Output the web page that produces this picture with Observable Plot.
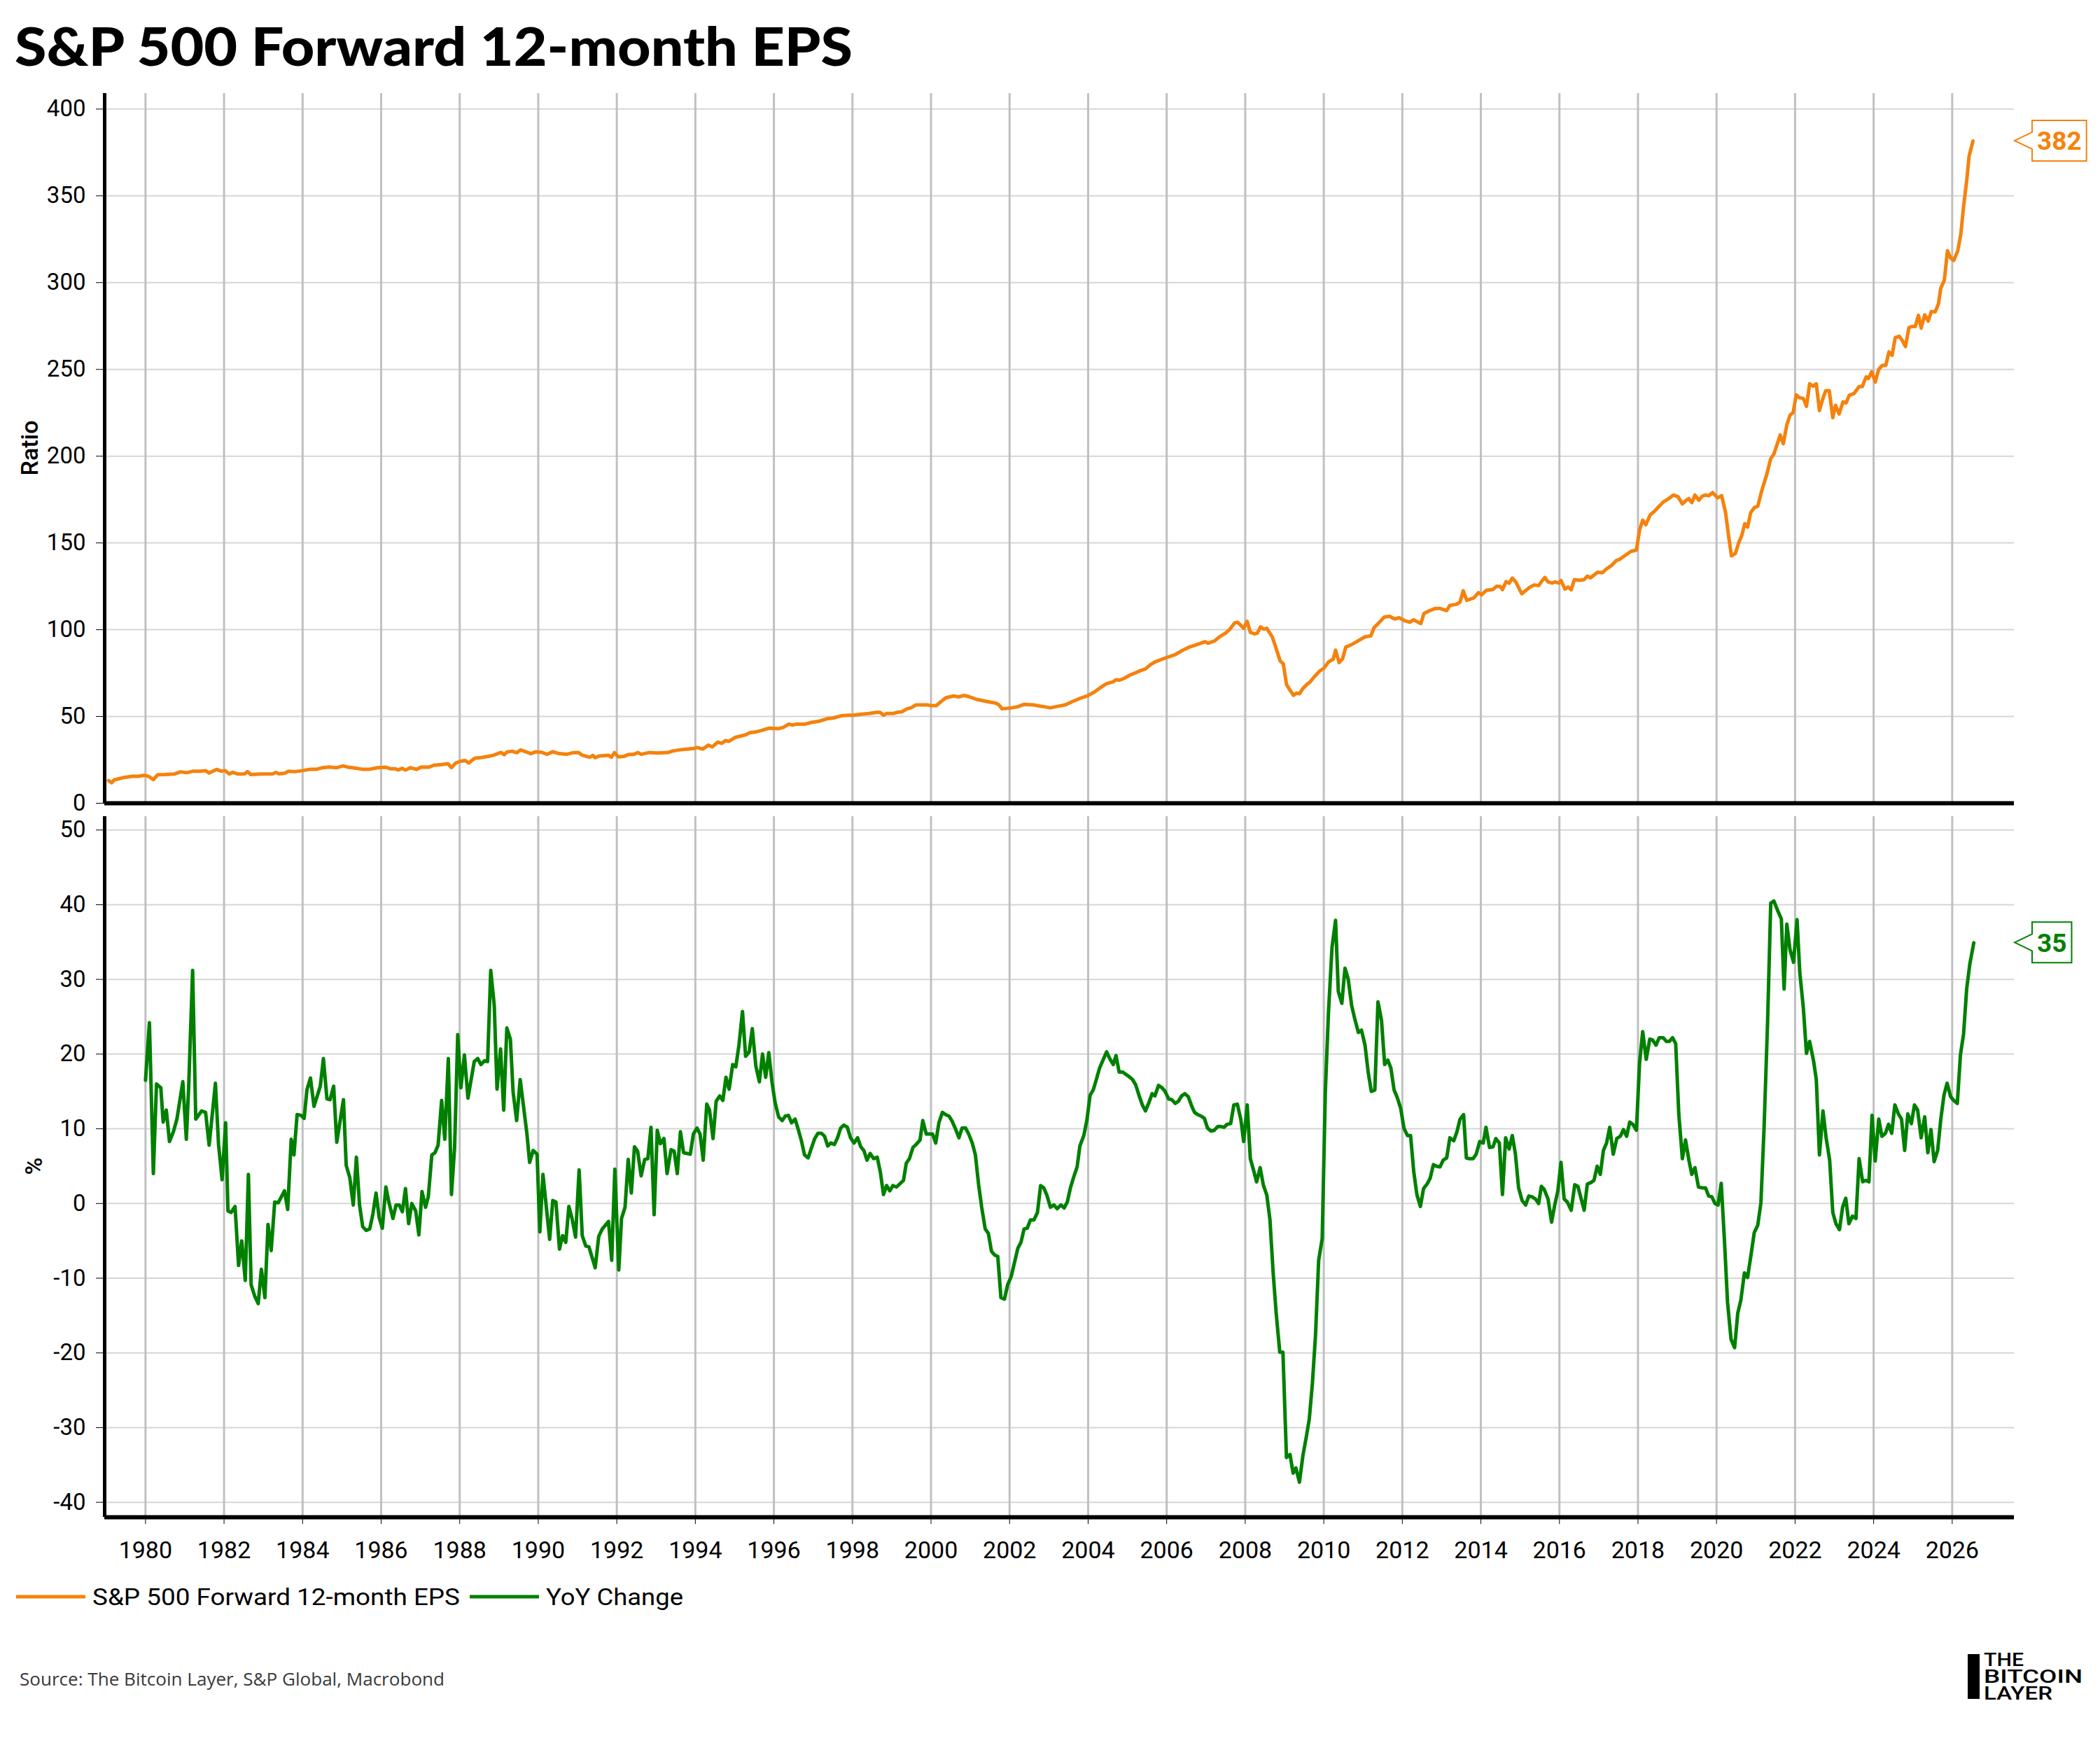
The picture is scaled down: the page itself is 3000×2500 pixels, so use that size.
<!DOCTYPE html>
<html><head><meta charset="utf-8">
<script src="https://cdn.jsdelivr.net/npm/d3@7"></script>
<script src="https://cdn.jsdelivr.net/npm/@observablehq/plot@0.6"></script>
<style>
html,body{margin:0;padding:0;background:#fff;}
#page{position:relative;width:3000px;height:2500px;background:#fff;overflow:hidden;font-family:Roboto,"Noto Sans",sans-serif;}
#top,#bottom{position:absolute;left:0;}
#top{top:100px;}
#bottom{top:1152px;}
#overlay{position:absolute;left:0;top:0;}
</style></head>
<body>
<div id="page"><div id="top"></div><div id="bottom"></div>
<svg id="overlay" width="3000" height="2500"></svg></div>
<script>
// ---------------- DATA ----------------
const titleText = "S&P 500 Forward 12-month EPS";
const seriesNames = ["S&P 500 Forward 12-month EPS", "YoY Change"];
const sourceText = "Source: The Bitcoin Layer, S&P Global, Macrobond";
const yearTicks = [1980,1982,1984,1986,1988,1990,1992,1994,1996,1998,2000,2002,2004,2006,2008,2010,2012,2014,2016,2018,2020,2022,2024,2026];
const epsTicks = [0,50,100,150,200,250,300,350,400];
const yoyTicks = [-40,-30,-20,-10,0,10,20,30,40,50];

// [decimal year, forward 12m EPS]
const epsData = [
[1979.06,13.1],[1979.14,11.8],[1979.2,13.4],[1979.42,14.7],[1979.66,15.5],[1979.82,15.5],[1979.98,16.1],[1980.08,15.5],[1980.2,13.6],[1980.31,16.4],
[1980.49,16.5],[1980.73,16.8],[1980.89,18.1],[1981.05,17.6],[1981.21,18.5],[1981.41,18.5],[1981.53,18.8],[1981.62,17.4],[1981.81,19.5],[1981.93,18.5],
[1982.03,18.8],[1982.13,16.9],[1982.22,17.8],[1982.36,16.8],[1982.52,16.9],[1982.6,18.2],[1982.68,16.5],[1982.92,16.8],[1983.24,16.9],[1983.32,17.8],
[1983.4,16.9],[1983.56,17.4],[1983.64,18.5],[1983.8,18.2],[1984.0,18.8],[1984.2,19.6],[1984.36,19.6],[1984.51,20.5],[1984.67,20.9],[1984.87,20.5],
[1985.03,21.5],[1985.15,20.8],[1985.31,20.4],[1985.51,19.6],[1985.71,19.6],[1985.91,20.5],[1986.11,20.8],[1986.23,19.9],[1986.35,19.9],[1986.43,19.2],
[1986.54,20.1],[1986.62,19.1],[1986.74,20.5],[1986.9,19.5],[1987.02,20.9],[1987.22,20.8],[1987.34,21.9],[1987.54,22.3],[1987.7,22.8],[1987.79,20.5],
[1987.9,23.2],[1988.02,24.2],[1988.14,24.6],[1988.23,23.2],[1988.38,25.9],[1988.57,26.4],[1988.73,27.0],[1988.85,27.6],[1989.05,29.3],[1989.13,28.0],
[1989.21,29.6],[1989.33,30.0],[1989.45,29.1],[1989.55,30.7],[1989.69,29.6],[1989.81,28.6],[1989.93,29.6],[1990.09,29.3],[1990.23,28.2],[1990.37,29.7],
[1990.53,28.6],[1990.72,28.2],[1990.88,29.1],[1991.03,29.2],[1991.11,27.8],[1991.31,26.5],[1991.39,27.6],[1991.45,26.2],[1991.55,27.2],[1991.79,27.6],
[1991.86,26.5],[1991.94,29.2],[1992.04,26.7],[1992.18,27.0],[1992.3,28.1],[1992.42,28.1],[1992.54,29.2],[1992.62,28.2],[1992.82,29.2],[1993.02,28.9],
[1993.3,29.2],[1993.42,30.1],[1993.61,30.8],[1993.77,31.2],[1993.97,31.6],[1994.05,32.1],[1994.19,31.2],[1994.33,33.5],[1994.43,32.5],[1994.57,35.2],
[1994.67,34.5],[1994.77,36.2],[1994.85,35.6],[1995.01,37.9],[1995.29,39.5],[1995.38,40.6],[1995.52,41.0],[1995.68,41.9],[1995.88,43.3],[1996.12,43.0],
[1996.24,43.7],[1996.38,45.6],[1996.48,45.0],[1996.56,45.6],[1996.8,45.6],[1996.96,46.6],[1997.16,47.3],[1997.35,48.7],[1997.51,49.1],[1997.71,50.4],
[1997.91,50.7],[1998.03,50.7],[1998.23,51.3],[1998.43,51.7],[1998.63,52.4],[1998.71,52.3],[1998.79,50.7],[1998.87,51.7],[1999.03,51.7],[1999.14,52.4],
[1999.26,52.7],[1999.38,54.3],[1999.5,55.1],[1999.62,56.7],[1999.9,56.7],[1999.98,56.3],[2000.14,56.3],[2000.26,58.7],[2000.38,60.8],[2000.58,61.8],
[2000.7,61.3],[2000.85,62.1],[2000.97,61.4],[2001.17,59.8],[2001.41,58.7],[2001.65,57.7],[2001.73,56.7],[2001.81,54.4],[2002.05,55.0],[2002.21,55.6],
[2002.37,57.0],[2002.61,56.7],[2002.77,56.0],[2002.88,55.6],[2003.04,55.0],[2003.24,55.9],[2003.43,56.8],[2003.59,58.5],[2003.79,60.4],[2003.99,62.0],
[2004.15,63.9],[2004.31,66.6],[2004.47,68.9],[2004.63,69.9],[2004.71,71.2],[2004.8,70.9],[2004.91,71.9],[2005.07,73.9],[2005.23,75.4],[2005.35,76.6],
[2005.46,77.4],[2005.58,79.7],[2005.7,81.4],[2005.86,82.8],[2006.02,84.1],[2006.22,85.7],[2006.38,87.8],[2006.58,90.0],[2006.78,91.5],[2006.98,93.1],
[2007.06,92.2],[2007.22,93.5],[2007.34,95.8],[2007.5,98.1],[2007.61,100.3],[2007.73,103.9],[2007.81,104.3],[2007.96,100.8],[2008.05,104.8],[2008.13,98.5],
[2008.25,97.6],[2008.31,98.1],[2008.39,101.6],[2008.47,100.3],[2008.55,100.8],[2008.69,95.8],[2008.77,90.4],[2008.89,82.0],[2008.97,80.3],[2009.05,68.5],
[2009.13,65.5],[2009.23,62.2],[2009.31,63.5],[2009.38,63.1],[2009.47,66.2],[2009.57,68.5],[2009.64,69.6],[2009.76,72.9],[2009.9,76.3],[2010.0,77.7],
[2010.12,81.4],[2010.24,83.0],[2010.3,88.2],[2010.39,81.0],[2010.48,83.3],[2010.56,90.0],[2010.68,91.1],[2010.84,93.1],[2011.04,95.8],[2011.2,96.5],
[2011.28,101.2],[2011.4,103.9],[2011.54,107.3],[2011.68,107.7],[2011.8,106.2],[2011.92,106.9],[2012.07,105.1],[2012.19,104.3],[2012.29,105.7],[2012.47,103.5],
[2012.55,109.3],[2012.69,110.9],[2012.83,112.2],[2012.97,112.2],[2013.13,111.0],[2013.21,114.0],[2013.39,114.7],[2013.47,116.0],[2013.55,122.5],[2013.64,116.9],
[2013.82,118.3],[2013.94,121.4],[2014.02,120.1],[2014.14,122.7],[2014.3,123.1],[2014.4,125.0],[2014.5,124.8],[2014.55,123.1],[2014.64,127.7],[2014.72,126.8],
[2014.8,129.7],[2014.89,127.5],[2015.04,120.7],[2015.24,124.4],[2015.36,125.8],[2015.47,125.4],[2015.55,127.9],[2015.63,130.1],[2015.71,127.5],[2015.81,126.9],
[2015.89,127.5],[2015.98,126.9],[2016.04,128.3],[2016.14,123.4],[2016.22,124.6],[2016.3,123.0],[2016.38,128.9],[2016.51,128.5],[2016.63,128.9],[2016.71,130.9],
[2016.79,129.9],[2016.97,133.1],[2017.1,132.9],[2017.2,135.1],[2017.33,137.1],[2017.45,139.9],[2017.53,140.5],[2017.69,143.1],[2017.82,145.1],[2017.96,145.9],
[2018.04,157.5],[2018.12,163.1],[2018.2,160.5],[2018.31,166.1],[2018.43,168.5],[2018.53,170.9],[2018.64,173.5],[2018.76,175.2],[2018.9,177.6],[2019.02,176.6],
[2019.13,172.5],[2019.21,174.2],[2019.29,175.6],[2019.37,173.2],[2019.45,177.6],[2019.55,174.6],[2019.64,177.0],[2019.72,177.6],[2019.8,177.2],[2019.9,179.0],
[2020.03,176.0],[2020.13,177.2],[2020.23,167.5],[2020.31,153.5],[2020.38,142.5],[2020.48,143.9],[2020.57,150.5],[2020.64,154.1],[2020.72,161.1],[2020.79,159.1],
[2020.87,167.5],[2020.97,170.5],[2021.05,171.1],[2021.15,180.0],[2021.28,189.6],[2021.38,198.6],[2021.46,201.2],[2021.56,208.0],[2021.62,212.2],[2021.7,207.2],
[2021.79,218.0],[2021.87,223.6],[2021.95,225.1],[2022.03,235.3],[2022.11,233.7],[2022.21,233.3],[2022.29,228.7],[2022.37,241.7],[2022.46,240.3],[2022.54,241.7],
[2022.62,226.3],[2022.7,232.7],[2022.78,237.7],[2022.87,237.7],[2022.96,222.2],[2023.03,229.3],[2023.12,224.3],[2023.22,231.3],[2023.3,230.7],[2023.38,235.1],
[2023.5,236.1],[2023.63,240.1],[2023.71,240.1],[2023.81,245.7],[2023.87,244.7],[2023.95,248.7],[2024.04,242.7],[2024.13,250.1],[2024.22,252.3],[2024.31,252.3],
[2024.39,260.1],[2024.47,258.1],[2024.55,268.3],[2024.65,269.1],[2024.73,266.7],[2024.81,263.1],[2024.9,274.1],[2024.98,274.7],[2025.06,274.7],[2025.14,281.2],
[2025.21,273.8],[2025.3,281.4],[2025.39,277.8],[2025.47,283.4],[2025.57,283.2],[2025.65,287.8],[2025.71,296.8],[2025.8,301.4],[2025.88,318.4],[2025.96,314.2],
[2026.04,312.8],[2026.14,318.2],[2026.22,327.9],[2026.29,343.9],[2026.37,358.9],[2026.43,372.9],[2026.53,381.6]
];

// [decimal year, YoY % change]
const yoyData = [
[1980.0,16.5],[1980.1,24.2],[1980.2,4.0],[1980.28,16.0],[1980.39,15.5],[1980.45,10.9],[1980.53,12.5],[1980.61,8.3],[1980.71,9.6],[1980.8,11.3],
[1980.95,16.3],[1981.04,8.6],[1981.1,15.7],[1981.2,31.2],[1981.28,11.3],[1981.43,12.4],[1981.53,12.2],[1981.62,7.8],[1981.7,11.9],[1981.78,16.1],
[1981.86,7.9],[1981.95,3.2],[1982.04,10.8],[1982.1,-1.0],[1982.18,-1.2],[1982.28,-0.4],[1982.37,-8.3],[1982.45,-5.0],[1982.54,-10.3],[1982.62,3.9],
[1982.69,-10.9],[1982.78,-12.4],[1982.87,-13.4],[1982.95,-8.8],[1983.04,-12.6],[1983.12,-2.8],[1983.2,-6.3],[1983.29,0.2],[1983.38,0.1],[1983.46,0.9],
[1983.54,1.7],[1983.62,-0.8],[1983.71,8.6],[1983.78,6.5],[1983.86,11.9],[1983.96,11.8],[1984.04,11.4],[1984.11,15.2],[1984.2,16.8],[1984.29,13.0],
[1984.45,15.7],[1984.53,19.4],[1984.62,14.0],[1984.7,13.9],[1984.79,15.7],[1984.87,8.2],[1985.04,13.9],[1985.11,5.1],[1985.2,3.5],[1985.29,-0.2],
[1985.37,6.2],[1985.45,-0.2],[1985.53,-3.1],[1985.62,-3.6],[1985.71,-3.4],[1985.79,-1.4],[1985.87,1.4],[1985.95,-1.9],[1986.03,-3.3],[1986.12,2.2],
[1986.2,0.1],[1986.3,-2.0],[1986.38,-0.2],[1986.46,-0.2],[1986.54,-1.1],[1986.62,2.0],[1986.7,-2.7],[1986.78,0.0],[1986.88,-1.0],[1986.96,-4.2],
[1987.04,1.6],[1987.13,-0.5],[1987.2,0.9],[1987.29,6.5],[1987.37,6.8],[1987.45,7.8],[1987.54,13.8],[1987.62,8.6],[1987.71,19.4],[1987.79,1.2],
[1987.87,7.5],[1987.95,22.6],[1988.03,15.5],[1988.12,19.9],[1988.21,14.1],[1988.37,19.0],[1988.46,19.4],[1988.54,18.6],[1988.63,19.1],[1988.71,19.0],
[1988.79,31.2],[1988.88,26.5],[1988.95,15.3],[1989.04,20.7],[1989.12,12.5],[1989.2,23.5],[1989.29,22.0],[1989.36,14.9],[1989.45,11.1],[1989.54,16.6],
[1989.62,13.2],[1989.71,9.4],[1989.78,5.5],[1989.87,7.1],[1989.97,6.6],[1990.04,-3.8],[1990.12,3.9],[1990.29,-4.8],[1990.37,0.4],[1990.45,0.2],
[1990.54,-6.1],[1990.62,-4.3],[1990.7,-5.2],[1990.78,-0.4],[1990.86,-2.0],[1990.95,-4.5],[1991.04,4.5],[1991.12,-4.3],[1991.21,-5.7],[1991.29,-5.8],
[1991.45,-8.6],[1991.54,-4.4],[1991.63,-3.4],[1991.79,-2.4],[1991.87,-7.6],[1991.95,4.6],[1992.05,-8.9],[1992.12,-2.0],[1992.21,-0.5],[1992.29,5.9],
[1992.37,1.4],[1992.45,7.6],[1992.53,7.0],[1992.62,3.7],[1992.71,5.9],[1992.79,6.0],[1992.87,10.2],[1992.95,-1.5],[1993.03,9.8],[1993.11,8.0],
[1993.2,8.7],[1993.28,4.0],[1993.38,7.2],[1993.46,7.0],[1993.54,4.0],[1993.62,9.6],[1993.7,6.8],[1993.87,6.6],[1993.95,9.3],[1994.04,10.1],
[1994.12,9.3],[1994.2,5.8],[1994.29,13.3],[1994.36,12.5],[1994.45,8.7],[1994.53,13.7],[1994.62,14.4],[1994.7,13.8],[1994.78,16.9],[1994.86,15.3],
[1994.95,18.6],[1995.03,18.3],[1995.11,21.2],[1995.2,25.7],[1995.28,19.7],[1995.37,20.3],[1995.45,23.4],[1995.54,18.4],[1995.63,16.3],[1995.71,20.0],
[1995.79,16.9],[1995.87,20.2],[1995.95,16.3],[1996.03,13.5],[1996.12,11.6],[1996.21,11.1],[1996.29,11.7],[1996.37,11.8],[1996.45,10.8],[1996.54,11.3],
[1996.62,9.9],[1996.7,8.4],[1996.78,6.5],[1996.87,6.1],[1996.96,7.5],[1997.04,8.7],[1997.12,9.4],[1997.21,9.4],[1997.29,9.0],[1997.37,7.7],
[1997.45,8.1],[1997.54,7.9],[1997.62,8.8],[1997.7,10.1],[1997.78,10.5],[1997.87,10.2],[1997.95,8.8],[1998.04,8.1],[1998.13,8.8],[1998.21,7.6],
[1998.29,7.1],[1998.37,5.8],[1998.45,6.7],[1998.54,6.0],[1998.63,6.2],[1998.71,4.2],[1998.79,1.2],[1998.87,2.4],[1998.95,1.7],[1999.03,2.4],
[1999.12,2.2],[1999.2,2.6],[1999.3,3.1],[1999.37,5.4],[1999.45,6.0],[1999.54,7.5],[1999.62,7.9],[1999.72,8.5],[1999.79,11.1],[1999.88,9.3],
[1999.96,9.3],[2000.04,9.3],[2000.12,8.1],[2000.2,10.8],[2000.29,12.2],[2000.37,11.9],[2000.46,11.7],[2000.54,11.0],[2000.63,9.9],[2000.71,8.8],
[2000.79,10.1],[2000.88,10.1],[2000.96,9.3],[2001.05,8.1],[2001.13,6.5],[2001.21,2.6],[2001.29,-0.5],[2001.38,-3.4],[2001.46,-4.0],[2001.54,-6.4],
[2001.62,-6.9],[2001.7,-7.1],[2001.78,-12.6],[2001.87,-12.8],[2001.95,-10.9],[2002.04,-9.8],[2002.13,-7.8],[2002.21,-6.0],[2002.29,-5.2],[2002.37,-3.4],
[2002.45,-3.3],[2002.53,-2.2],[2002.62,-2.2],[2002.71,-1.2],[2002.79,2.4],[2002.87,2.1],[2002.95,1.1],[2003.04,-0.5],[2003.13,-0.2],[2003.21,-0.7],
[2003.31,-0.2],[2003.39,-0.6],[2003.47,0.2],[2003.55,2.1],[2003.63,3.5],[2003.72,4.9],[2003.79,7.7],[2003.89,9.1],[2003.97,11.2],[2004.05,14.5],
[2004.13,15.2],[2004.21,16.6],[2004.29,18.1],[2004.37,19.1],[2004.47,20.3],[2004.55,19.4],[2004.64,18.6],[2004.71,19.8],[2004.79,17.6],[2004.88,17.6],
[2004.96,17.3],[2005.04,17.0],[2005.13,16.6],[2005.21,15.9],[2005.3,14.4],[2005.38,13.2],[2005.46,12.4],[2005.54,13.4],[2005.63,14.7],[2005.7,14.4],
[2005.79,15.8],[2005.88,15.5],[2005.96,15.0],[2006.05,14.0],[2006.13,13.9],[2006.22,13.4],[2006.3,13.7],[2006.38,14.4],[2006.46,14.7],[2006.55,14.3],
[2006.64,13.0],[2006.71,12.2],[2006.79,11.9],[2006.88,11.7],[2006.96,11.4],[2007.04,10.1],[2007.13,9.7],[2007.21,9.8],[2007.3,10.3],[2007.38,10.3],
[2007.46,10.2],[2007.54,10.6],[2007.63,10.7],[2007.71,13.2],[2007.8,13.3],[2007.89,11.2],[2007.96,8.3],[2008.05,13.2],[2008.13,6.0],[2008.21,4.5],
[2008.29,2.9],[2008.38,4.8],[2008.46,2.5],[2008.55,1.1],[2008.63,-2.2],[2008.71,-9.2],[2008.79,-14.8],[2008.88,-19.9],[2008.96,-19.9],[2009.05,-34.0],
[2009.14,-33.6],[2009.22,-36.1],[2009.29,-35.4],[2009.38,-37.3],[2009.47,-33.7],[2009.55,-31.4],[2009.63,-28.9],[2009.71,-24.1],[2009.79,-17.6],[2009.87,-7.6],
[2009.96,-4.7],[2010.04,15.0],[2010.12,25.6],[2010.21,34.3],[2010.3,37.9],[2010.37,28.4],[2010.46,26.8],[2010.54,31.5],[2010.62,30.1],[2010.71,26.5],
[2010.79,24.7],[2010.88,22.9],[2010.96,23.2],[2011.05,21.2],[2011.13,17.6],[2011.21,15.0],[2011.3,15.2],[2011.38,27.0],[2011.47,24.5],[2011.55,18.6],
[2011.63,19.2],[2011.71,18.1],[2011.79,15.2],[2011.87,14.2],[2011.96,12.7],[2012.04,10.1],[2012.13,9.1],[2012.21,9.1],[2012.29,4.3],[2012.37,1.2],
[2012.46,-0.4],[2012.54,2.0],[2012.63,2.6],[2012.71,3.4],[2012.79,5.2],[2012.87,5.0],[2012.96,4.9],[2013.04,5.8],[2013.13,6.1],[2013.21,8.8],
[2013.31,8.4],[2013.39,9.6],[2013.47,11.3],[2013.56,11.9],[2013.63,6.1],[2013.71,6.0],[2013.8,6.0],[2013.88,6.6],[2013.97,8.3],[2014.06,8.1],
[2014.13,10.2],[2014.22,7.5],[2014.31,7.6],[2014.38,8.7],[2014.47,8.1],[2014.55,1.2],[2014.63,8.8],[2014.72,7.3],[2014.8,9.1],[2014.88,6.6],
[2014.96,2.1],[2015.05,0.4],[2015.14,-0.2],[2015.22,1.0],[2015.3,0.9],[2015.39,0.6],[2015.47,0.0],[2015.54,2.3],[2015.61,1.9],[2015.71,0.6],
[2015.8,-2.5],[2015.88,-0.2],[2015.96,1.7],[2016.04,5.5],[2016.12,0.6],[2016.2,0.2],[2016.3,-0.9],[2016.39,2.5],[2016.47,2.3],[2016.55,0.7],
[2016.63,-0.9],[2016.71,2.6],[2016.8,2.8],[2016.88,3.1],[2016.96,5.0],[2017.04,3.9],[2017.12,7.1],[2017.2,8.1],[2017.28,10.2],[2017.37,6.6],
[2017.46,8.7],[2017.55,9.0],[2017.63,9.9],[2017.71,9.0],[2017.79,10.9],[2017.87,10.6],[2017.96,9.8],[2018.04,18.8],[2018.12,23.0],[2018.21,19.3],
[2018.3,22.0],[2018.37,21.9],[2018.46,21.2],[2018.54,22.2],[2018.64,22.2],[2018.72,21.7],[2018.8,21.7],[2018.88,22.2],[2018.96,21.4],[2019.04,11.9],
[2019.13,6.0],[2019.21,8.5],[2019.3,5.7],[2019.37,3.9],[2019.45,4.8],[2019.54,2.2],[2019.63,2.1],[2019.72,2.1],[2019.8,1.0],[2019.88,0.9],
[2019.96,0.0],[2020.04,-0.2],[2020.12,2.7],[2020.2,-4.8],[2020.28,-13.2],[2020.37,-18.2],[2020.46,-19.3],[2020.54,-14.7],[2020.62,-12.9],[2020.71,-9.3],
[2020.79,-9.9],[2020.88,-6.8],[2020.96,-3.9],[2021.05,-2.9],[2021.13,0.1],[2021.21,10.1],[2021.3,24.3],[2021.38,40.2],[2021.46,40.5],[2021.55,39.3],
[2021.65,38.1],[2021.72,28.7],[2021.79,37.4],[2021.87,34.0],[2021.96,32.3],[2022.05,38.0],[2022.12,30.9],[2022.21,26.2],[2022.29,20.1],[2022.37,21.7],
[2022.47,19.1],[2022.54,16.6],[2022.62,6.5],[2022.71,12.4],[2022.79,8.8],[2022.88,5.8],[2022.96,-1.2],[2023.04,-2.7],[2023.13,-3.5],[2023.21,-0.5],
[2023.29,0.7],[2023.37,-2.7],[2023.46,-1.7],[2023.55,-2.0],[2023.63,6.0],[2023.72,2.9],[2023.8,3.1],[2023.88,2.9],[2023.96,11.8],[2024.04,5.7],
[2024.13,11.3],[2024.21,9.0],[2024.3,9.4],[2024.38,10.6],[2024.46,9.4],[2024.54,13.2],[2024.63,12.0],[2024.71,11.3],[2024.79,7.1],[2024.87,12.0],
[2024.96,10.7],[2025.04,13.2],[2025.12,12.5],[2025.21,8.8],[2025.3,11.6],[2025.38,6.8],[2025.46,9.9],[2025.54,5.6],[2025.63,7.1],[2025.71,11.3],
[2025.79,14.5],[2025.87,16.1],[2025.96,14.3],[2026.04,13.8],[2026.13,13.4],[2026.21,19.9],[2026.29,22.7],[2026.37,28.8],[2026.45,32.1],[2026.55,34.9]
];

// ---------------- STYLE ----------------
const ORANGE = "#f5820d";
const GREEN = "#008000";
const X_DOMAIN = [1978.96, 2027.58];
const FONT = "Roboto, 'Noto Sans', sans-serif";

const eps = epsData.map(([date, value]) => ({date, value}));
const yoy = yoyData.map(([date, value]) => ({date, value}));
const fmt = d => String(d);

const common = {
  width: 3000, marginLeft: 149, marginRight: 123,
  style: {fontFamily: FONT, fontSize: "33px", color: "#000", background: "transparent", overflow: "visible"}
};

const topChart = Plot.plot({
  ...common,
  height: 1057, marginTop: 33, marginBottom: 10,
  x: {domain: X_DOMAIN, axis: null},
  y: {domain: [0, 409]},
  marks: [
    Plot.gridY(epsTicks, {stroke: "#d6d6d6", strokeOpacity: 1, strokeWidth: 2}),
    Plot.gridX(yearTicks, {stroke: "#c0c0c0", strokeOpacity: 1, strokeWidth: 3}),
    Plot.axisY(epsTicks, {tickSize: 12, tickPadding: 15, tickFormat: fmt, label: null, fontSize: 33}),
    Plot.lineY(eps, {x: "date", y: "value", stroke: ORANGE, strokeWidth: 5}),
    Plot.ruleY([0], {stroke: "#000", strokeWidth: 6}),
    Plot.ruleX([X_DOMAIN[0]], {stroke: "#000", strokeWidth: 5})
  ]
});

const bottomChart = Plot.plot({
  ...common,
  height: 1095, marginTop: 14, marginBottom: 80,
  x: {domain: X_DOMAIN},
  y: {domain: [-42, 51.8]},
  marks: [
    Plot.gridY(yoyTicks, {stroke: "#d6d6d6", strokeOpacity: 1, strokeWidth: 2}),
    Plot.gridX(yearTicks, {stroke: "#c0c0c0", strokeOpacity: 1, strokeWidth: 3}),
    Plot.axisY(yoyTicks, {tickSize: 12, tickPadding: 15, tickFormat: fmt, label: null, fontSize: 33}),
    Plot.axisX(yearTicks, {tickSize: 10, tickPadding: 24, tickFormat: fmt, label: null, fontSize: 34}),
    Plot.lineY(yoy, {x: "date", y: "value", stroke: GREEN, strokeWidth: 5}),
    Plot.ruleY([-42], {stroke: "#000", strokeWidth: 6}),
    Plot.ruleX([X_DOMAIN[0]], {stroke: "#000", strokeWidth: 5})
  ]
});

document.getElementById("top").appendChild(topChart);
document.getElementById("bottom").appendChild(bottomChart);

// value tags at the right end of each panel, positioned through the chart scales
function addTag(chart, value, color) {
  const svg = d3.select(chart);
  const x0 = chart.scale("x").apply(X_DOMAIN[1]) + 1;
  const y0 = chart.scale("y").apply(value);
  const g = svg.append("g").attr("text-anchor", "start");
  const path = g.append("path");
  const t = g.append("text")
    .attr("x", x0 + 32).attr("y", y0).attr("dy", "0.36em")
    .attr("text-anchor", "start")
    .attr("font-family", FONT).attr("font-weight", 700).attr("font-size", 37)
    .attr("fill", color).text(String(Math.round(value)));
  const w = t.node().getComputedTextLength();
  const bl = x0 + 25, br = bl + w + 14, ht = 29, th = 12;
  path.attr("d", `M${x0},${y0}L${bl},${y0 - th}V${y0 - ht}H${br}V${y0 + ht}H${bl}V${y0 + th}Z`)
    .attr("fill", "#fff").attr("stroke", color).attr("stroke-width", 2);
}
addTag(topChart, epsData[epsData.length - 1][1], ORANGE);
addTag(bottomChart, yoyData[yoyData.length - 1][1], GREEN);

// ---------------- TEXT OVERLAY ----------------
const ov = d3.select("#overlay");
ov.append("text").attr("x", 21).attr("y", 94)
  .attr("font-family", "Lato, 'Open Sans', sans-serif").attr("font-weight", 900).attr("font-size", 76)
  .attr("textLength", 1197).attr("lengthAdjust", "spacingAndGlyphs").attr("fill", "#000").text(titleText);

ov.append("text").attr("transform", "translate(54,640) rotate(-90)").attr("text-anchor", "middle")
  .attr("font-family", FONT).attr("font-weight", 500).attr("font-size", 34).text("Ratio");
ov.append("text").attr("transform", "translate(60,1666) rotate(-90)").attr("text-anchor", "middle")
  .attr("font-family", FONT).attr("font-weight", 500).attr("font-size", 34).text("%");

// legend
const legend = [
  {name: seriesNames[0], color: ORANGE, x: 23, w: 525},
  {name: seriesNames[1], color: GREEN, x: 671, w: 196}
];
legend.forEach(l => {
  ov.append("line").attr("x1", l.x).attr("x2", l.x + 99).attr("y1", 2281).attr("y2", 2281)
    .attr("stroke", l.color).attr("stroke-width", 5);
  ov.append("text").attr("x", l.x + 109).attr("y", 2293).attr("font-family", FONT).attr("font-size", 34)
    .attr("textLength", l.w).attr("lengthAdjust", "spacingAndGlyphs").attr("fill", "#000").text(l.name);
});

ov.append("text").attr("x", 28).attr("y", 2408).attr("font-family", "'Open Sans', 'Noto Sans', sans-serif")
  .attr("font-size", 26).attr("textLength", 607).attr("lengthAdjust", "spacingAndGlyphs")
  .attr("fill", "#3a3a3a").text(sourceText);

// logo
ov.append("rect").attr("x", 2811).attr("y", 2363).attr("width", 17).attr("height", 64).attr("fill", "#000");
[["THE", 2380, 57], ["BITCOIN", 2404, 141], ["LAYER", 2428, 98]].forEach(([s, y, w]) => {
  ov.append("text").attr("x", 2834).attr("y", y).attr("font-family", FONT).attr("font-weight", 500)
    .attr("font-size", 25).attr("textLength", w).attr("lengthAdjust", "spacingAndGlyphs")
    .attr("fill", "#000").text(s);
});
</script>
</body></html>
